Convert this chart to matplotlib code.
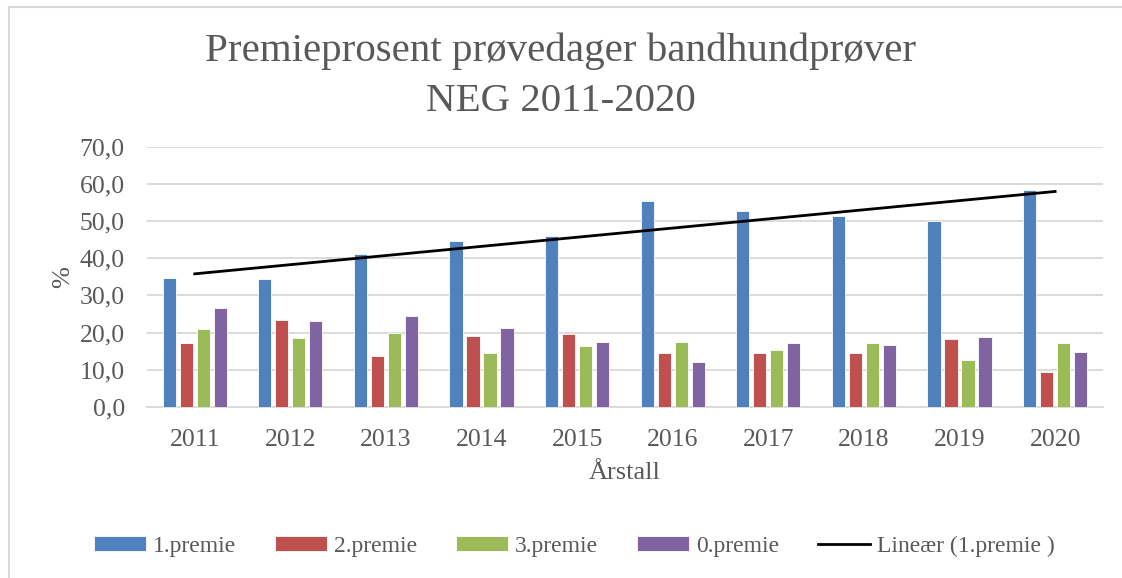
import matplotlib.pyplot as plt
import numpy as np
from matplotlib.lines import Line2D
from matplotlib.ticker import FuncFormatter

plt.rcParams['font.family'] = ['Liberation Serif', 'DejaVu Serif']

# Data
years = ['2011', '2012', '2013', '2014', '2015', '2016', '2017', '2018', '2019', '2020']
premie1 = [34.7, 34.4, 41.2, 44.7, 46.1, 55.5, 52.7, 51.3, 50.0, 58.4]
premie2 = [17.1, 23.4, 13.6, 19.1, 19.7, 14.4, 14.5, 14.4, 18.3, 9.5]
premie3 = [21.0, 18.6, 20.0, 14.5, 16.4, 17.6, 15.3, 17.3, 12.5, 17.3]
premie0 = [26.7, 23.0, 24.6, 21.2, 17.6, 12.2, 17.1, 16.7, 18.7, 14.7]

series = [
    ('1.premie', premie1, '#4F81BD'),
    ('2.premie', premie2, '#C0504D'),
    ('3.premie', premie3, '#9BBB59'),
    ('0.premie', premie0, '#8064A2'),
]

grey = '#595959'
fig = plt.figure(figsize=(11.22, 5.78), dpi=100)
ax = fig.add_axes([0.131, 0.296, 0.852, 0.450])

x = np.arange(len(years))
pitch = 0.178
width = 0.138
handles = []
for i, (name, vals, col) in enumerate(series):
    b = ax.bar(x + (i - 1.5) * pitch, vals, width, color=col,
               edgecolor='white', linewidth=0.6, label=name, zorder=3)
    handles.append(b)

# linear trend for 1.premie
k, m = np.polyfit(x, premie1, 1)
trend, = ax.plot(x, k * x + m, color='black', lw=2, zorder=4,
                 label='Lineær (1.premie )')

ax.set_xlim(-0.5, len(years) - 0.5)
ax.set_ylim(0, 70)
ax.set_yticks(np.arange(0, 71, 10))
ax.yaxis.set_major_formatter(FuncFormatter(lambda v, p: f'{v:.1f}'.replace('.', ',')))
ax.set_xticks(x)
ax.set_xticklabels(years)
ax.grid(axis='y', color='#D9D9D9', lw=1.3, zorder=0)
for s in ['top', 'right', 'left']:
    ax.spines[s].set_visible(False)
ax.spines['bottom'].set_color('#D9D9D9')
ax.spines['bottom'].set_linewidth(1.3)
ax.tick_params(axis='both', length=0, labelsize=18.5, colors=grey)
ax.tick_params(axis='y', pad=16)
ax.tick_params(axis='x', pad=16)

ax.set_ylabel('%', fontsize=19, color=grey, labelpad=4)
ax.set_xlabel('Årstall', fontsize=19, color=grey, labelpad=8)

fig.suptitle('Premieprosent prøvedager bandhundprøver\nNEG 2011-2020',
             fontsize=29.5, color=grey, y=0.943, linespacing=1.45)

leg = fig.legend(handles=handles + [trend], loc='center', ncol=5,
                 bbox_to_anchor=(0.512, 0.055), frameon=False, fontsize=17,
                 handlelength=2.2, handleheight=0.55, columnspacing=1.65,
                 handletextpad=0.3)
for t in leg.get_texts():
    t.set_color(grey)

# outer chart border (left and top visible)
fig.add_artist(Line2D([0.008, 0.008], [0.0, 0.988], color='#D9D9D9', lw=1.5))
fig.add_artist(Line2D([0.008, 1.0], [0.988, 0.988], color='#D9D9D9', lw=1.5))

fig.savefig('out.png', dpi=100)
